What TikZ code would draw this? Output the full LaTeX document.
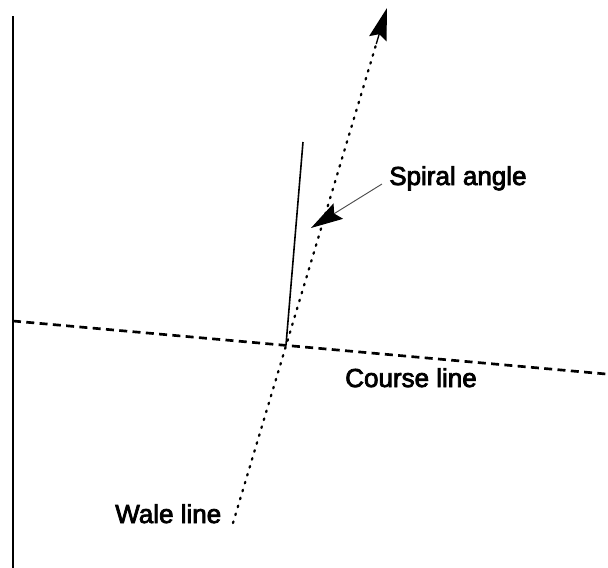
\documentclass[tikz,border=0pt]{standalone}
\usepackage{fontspec}
\setmainfont[FakeBold=3]{Liberation Sans}
\usetikzlibrary{arrows.meta,calc}
\begin{document}
\begin{tikzpicture}[x=0.75pt,y=-0.75pt,
  lbl/.style={inner sep=0pt,anchor=base west,font=\fontsize{19.5}{23}\selectfont},
  dotline/.style={line width=1.7pt,dash pattern=on 1.2pt off 5pt,line cap=round},
  dashline/.style={line width=2pt,dash pattern=on 6pt off 4pt},
  bighead/.style={-{Stealth[length=24pt,width=13.5pt,inset=3.5pt]}}]
\useasboundingbox (0,0) rectangle (608,568);
% coordinates
\coordinate (vtop) at (13,16);
\coordinate (vbot) at (13,568);
\coordinate (cl) at (13,321);
\coordinate (cr) at (606,374);
\coordinate (wb) at (233,523);
\coordinate (wt) at (387,8);
\coordinate (sb) at (286,345);
\coordinate (st) at (303,142);
\coordinate (as) at (382,184);
\coordinate (at) at (311,228);
% lines
\draw[line width=1.6pt] (vtop) -- (vbot);
\draw[dashline] (cl) -- (cr);
\draw[dotline] (wb) -- ($(wb)!0.93!(wt)$) coordinate (wm);
\draw[bighead,line width=1pt] (wm) -- (wt);
\draw[line width=1.2pt] (sb) -- (st);
\draw[line width=0.7pt,black!70,-{Stealth[length=24pt,width=13.5pt,inset=3.5pt,black]}] (as) -- (at);
% labels
\node[lbl] (spiral) at (389,185) {Spiral angle};
\node[lbl] (course) at (345,387) {Course line};
\node[lbl] (wale) at (115,523) {Wale line};
\end{tikzpicture}
\end{document}
